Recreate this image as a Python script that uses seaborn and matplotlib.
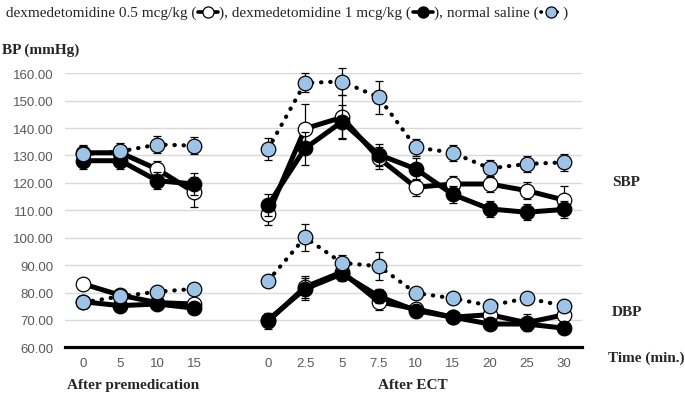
import matplotlib
matplotlib.use('Agg')
import matplotlib.pyplot as plt
import numpy as np
import pandas as pd
import seaborn as sns
from matplotlib.lines import Line2D

#### DATA ####
pre_times = ['0', '5', '10', '15']
ect_times = ['0', '2.5', '5', '7.5', '10', '15', '20', '25', '30']
groups = ['dexmedetomidine 0.5 mcg/kg', 'dexmedetomidine 1 mcg/kg', 'normal saline']

# SBP
sbp_low_pre = [131.0, 131.0, 125.0, 116.6]
sbp_low_ect = [108.6, 139.8, 143.9, 129.0, 118.4, 119.6, 119.6, 117.2, 113.8]
sbp_high_pre = [128.1, 128.1, 120.8, 119.6]
sbp_high_ect = [111.9, 132.6, 142.3, 130.3, 125.1, 115.8, 110.5, 109.3, 110.3]
sbp_ns_pre = [130.5, 131.5, 134.0, 133.6]
sbp_ns_ect = [132.4, 156.5, 157.0, 151.2, 133.0, 131.0, 125.3, 126.9, 127.5]
# DBP
dbp_low_pre = [83.1, 79.0, 76.3, 75.8]
dbp_low_ect = [69.5, 82.0, 87.5, 76.6, 74.0, 71.0, 71.9, 69.0, 71.8]
dbp_high_pre = [76.6, 75.2, 75.8, 74.3]
dbp_high_ect = [70.0, 81.3, 86.8, 78.6, 73.4, 71.0, 68.5, 68.5, 67.0]
dbp_ns_pre = [76.4, 78.6, 80.3, 81.3]
dbp_ns_ect = [84.3, 100.1, 90.8, 89.6, 79.8, 77.9, 75.2, 77.9, 75.2]

# error bars (SE)
sbp_low_err_pre = [3, 3, 3, 5.5]
sbp_low_err_ect = [4, 9, 8, 4, 3, 3, 3, 3, 5]
sbp_high_err_pre = [3, 3, 3, 4]
sbp_high_err_ect = [4, 6, 6, 4, 4, 3, 3, 3, 3]
sbp_ns_err_pre = [3, 3, 3, 3]
sbp_ns_err_ect = [4, 3.5, 5, 6, 3, 3, 3, 3, 3]
dbp_low_err_pre = [2, 2, 2, 2]
dbp_low_err_ect = [3, 4, 3, 3, 2, 2, 2, 3, 3]
dbp_high_err_pre = [2, 2, 2, 2]
dbp_high_err_ect = [2, 4, 2.5, 2.5, 2, 2, 2, 2, 2]
dbp_ns_err_pre = [2, 2, 2, 2]
dbp_ns_err_ect = [2, 5, 3, 5, 2, 2, 2, 2, 2]

values = {
    (groups[0], 'SBP'): (sbp_low_pre, sbp_low_ect, sbp_low_err_pre, sbp_low_err_ect),
    (groups[1], 'SBP'): (sbp_high_pre, sbp_high_ect, sbp_high_err_pre, sbp_high_err_ect),
    (groups[2], 'SBP'): (sbp_ns_pre, sbp_ns_ect, sbp_ns_err_pre, sbp_ns_err_ect),
    (groups[0], 'DBP'): (dbp_low_pre, dbp_low_ect, dbp_low_err_pre, dbp_low_err_ect),
    (groups[1], 'DBP'): (dbp_high_pre, dbp_high_ect, dbp_high_err_pre, dbp_high_err_ect),
    (groups[2], 'DBP'): (dbp_ns_pre, dbp_ns_ect, dbp_ns_err_pre, dbp_ns_err_ect),
}

# category slots: premedication 0-3, gap, ECT 5-13
pre_pos = list(range(len(pre_times)))
ect_pos = list(range(len(pre_times) + 1, len(pre_times) + 1 + len(ect_times)))

rows = []
for (grp, meas), (vp, ve, ep, ee) in values.items():
    for p, v, e in zip(pre_pos, vp, ep):
        rows.append(dict(group=grp, measure=meas, phase='pre', pos=p, bp=v, err=e))
    for p, v, e in zip(ect_pos, ve, ee):
        rows.append(dict(group=grp, measure=meas, phase='ect', pos=p, bp=v, err=e))
df = pd.DataFrame(rows)

#### STYLE ####
sns.set_style('white')
plt.rcParams['font.family'] = ['Liberation Sans', 'DejaVu Sans']
serif = ['Liberation Serif', 'DejaVu Serif']
tick_gray = '#595959'
blue = '#9DC3E6'
fs_serif = 11

styles = {
    groups[0]: dict(ls='-', lw=3.6, mfc='white'),
    groups[1]: dict(ls='-', lw=3.6, mfc='black'),
    groups[2]: dict(ls=(0, (0.1, 2.1)), lw=3.0, mfc=blue),
}

fig = plt.figure(figsize=(6.85, 4.02), dpi=100)
ax = fig.add_axes([65 / 685, 1 - 348.3 / 402, 517 / 685, 274 / 402])

for i, grp in enumerate(groups):
    st = styles[grp]
    for meas in ['SBP', 'DBP']:
        for phase in ['pre', 'ect']:
            sub = df[(df.group == grp) & (df.measure == meas) & (df.phase == phase)]
            ax.errorbar(sub.pos, sub.bp, yerr=sub.err, fmt='none', ecolor='black',
                        elinewidth=0.9, capsize=3, capthick=0.9, zorder=3 + 2 * i,
                        clip_on=False)
            sns.lineplot(data=sub, x='pos', y='bp', ax=ax, color='black',
                         linestyle=st['ls'], linewidth=st['lw'], marker='o',
                         markersize=10.5, markerfacecolor=st['mfc'],
                         markeredgecolor='black', markeredgewidth=0.9,
                         dash_capstyle='round', legend=False, zorder=4 + 2 * i,
                         clip_on=False)

ax.set_xlim(-0.5, 13.5)
ax.set_ylim(60, 160)
ax.set_yticks(np.arange(60, 161, 10))
ax.set_yticklabels([f'{v:.2f}' for v in np.arange(60, 161, 10)])
ax.set_xticks(pre_pos + ect_pos)
ax.set_xticklabels(pre_times + ect_times)
ax.set_xlabel('')
ax.set_ylabel('')
ax.yaxis.grid(True, color='#d9d9d9', linewidth=1.0)
ax.xaxis.grid(False)
ax.set_axisbelow(True)
for s in ['top', 'right', 'left']:
    ax.spines[s].set_visible(False)
ax.spines['bottom'].set_linewidth(2.3)
ax.spines['bottom'].set_color('black')
ax.spines['bottom'].set_zorder(20)
ax.tick_params(axis='both', length=0, labelsize=9.5, labelcolor=tick_gray)
ax.tick_params(axis='y', pad=8)
ax.tick_params(axis='x', pad=7)

# text labels
fig.text(2 / 685, 1 - 50 / 402, 'BP (mmHg)', family=serif, weight='bold',
         fontsize=fs_serif, va='center', ha='left')
fig.text(612 / 685, 1 - 183 / 402, 'SBP', family=serif, weight='bold',
         fontsize=fs_serif, va='center', ha='left')
fig.text(612 / 685, 1 - 313 / 402, 'DBP', family=serif, weight='bold',
         fontsize=fs_serif, va='center', ha='left')
fig.text(684 / 685, 1 - 358 / 402, 'Time (min.)', family=serif, weight='bold',
         fontsize=fs_serif, va='center', ha='right')
fig.text(133 / 685, 1 - 386 / 402, 'After premedication', family=serif,
         weight='bold', fontsize=fs_serif, va='center', ha='center')
fig.text(413 / 685, 1 - 386 / 402, 'After ECT', family=serif, weight='bold',
         fontsize=fs_serif, va='center', ha='center')

# legend line at top: text with inline line glyphs
W, H = 685.0, 402.0
renderer = fig.canvas.get_renderer()
y_leg = 13
x_cur = 6.0
pieces = [('t', groups[0] + ' ('), ('g', 0), ('t', '), ' + groups[1] + ' ('), ('g', 1),
          ('t', '), ' + groups[2] + ' ('), ('g', 2), ('t', ')')]
for kind, val in pieces:
    if kind == 't':
        t = fig.text(x_cur / W, 1 - y_leg / H, val, family=serif, fontsize=fs_serif,
                     va='center', ha='left')
        bb = t.get_window_extent(renderer)
        x_cur = bb.x1
    else:
        st = styles[groups[val]]
        gw = 20
        x0, x1 = x_cur + 1.5, x_cur + 1.5 + gw
        yy = 1 - y_leg / H
        fig.add_artist(Line2D([x0 / W, x1 / W], [yy, yy], transform=fig.transFigure,
                              color='black', lw=2.6, linestyle=st['ls'],
                              dash_capstyle='round'))
        fig.add_artist(Line2D([(x0 + x1) / 2 / W], [yy], transform=fig.transFigure,
                              marker='o', markersize=8, markerfacecolor=st['mfc'],
                              markeredgecolor='black', markeredgewidth=0.9,
                              linestyle='none'))
        x_cur = x1 + 1.5

fig.savefig('out.png', dpi=100)
